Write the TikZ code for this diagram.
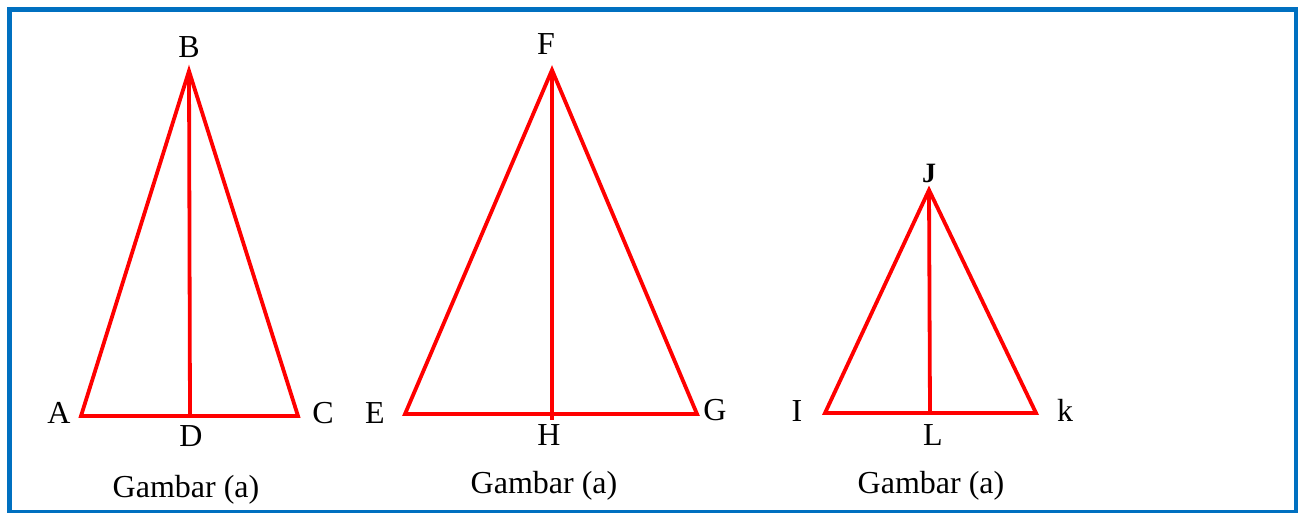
\documentclass[tikz,border=0pt]{standalone}
\usepackage{fontspec}
\setmainfont{Liberation Serif}
\definecolor{framecol}{RGB}{0,112,192}
\definecolor{tricol}{RGB}{255,0,0}
\tikzset{
  tri/.style={draw=tricol, line width=3.8pt, line join=miter},
  alt/.style={draw=tricol, line width=3.8pt},
  lbl/.style={inner sep=0pt, anchor=base, font=\fontsize{32}{32}\selectfont},
  captext/.style={inner sep=0pt, anchor=base, font=\fontsize{32}{32}\selectfont},
}
\begin{document}
\begin{tikzpicture}[x=1pt,y=-1pt]
\useasboundingbox (0,0) rectangle (1300,512);
\draw[framecol, line width=4.5pt] (9.5,9.5) rectangle (1296,512);
% triangle 1
\coordinate (A) at (81,416);
\coordinate (B) at (189,71);
\coordinate (C) at (298,416);
\coordinate (D) at (190,416);
\draw[tri] (A) -- (B) -- (C) -- cycle;
\draw[alt] (B) -- (D);
% triangle 2
\coordinate (E) at (405,414);
\coordinate (F) at (552,70);
\coordinate (G) at (697,414);
\coordinate (H) at (552,420);
\draw[tri] (E) -- (F) -- (G) -- cycle;
\draw[alt] (F) -- (H);
% triangle 3
\coordinate (I) at (825,413);
\coordinate (J) at (929,190);
\coordinate (K) at (1036,413);
\coordinate (L) at (930,413);
\draw[tri] (I) -- (J) -- (K) -- cycle;
\draw[alt] (J) -- (L);
% labels
\node[lbl] (lA) at (59,423) {A};
\node[lbl] (lB) at (189,57) {B};
\node[lbl] (lC) at (323,423) {C};
\node[lbl] (lD) at (191,446) {D};
\node[lbl] (lE) at (375,423) {E};
\node[lbl] (lF) at (546,54) {F};
\node[lbl] (lG) at (715,420) {G};
\node[lbl] (lH) at (549,445) {H};
\node[lbl, font=\fontsize{28}{28}\selectfont\bfseries] (lJ) at (929,182) {J};
\node[lbl] (lI) at (797,421) {I};
\node[lbl] (lk) at (1065,421) {k};
\node[lbl] (lL) at (933,445) {L};
% captions
\node[captext] (g1) at (186,497) {Gambar (a)};
\node[captext] (g2) at (544,493) {Gambar (a)};
\node[captext] (g3) at (931,493) {Gambar (a)};
\end{tikzpicture}
\end{document}
